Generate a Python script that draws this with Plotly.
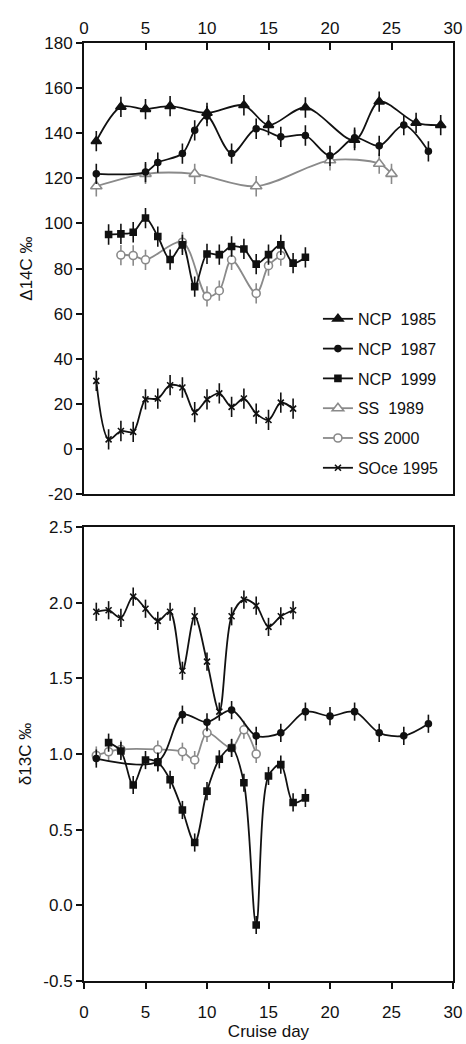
import plotly.graph_objects as go

# ---------------- Δ14C (top panel) ----------------
ncp1985_d14_day = [1, 3, 5, 7, 10, 13, 15, 18, 22, 24, 27, 29]
ncp1985_d14_val = [136.5, 151.7, 150.7, 152, 149, 152.4, 143.6, 151.4, 137, 154, 144.6, 143.6]

ncp1987_d14_day = [1, 5, 6, 8, 9, 10, 12, 14, 16, 18, 20, 22, 24, 26, 28]
ncp1987_d14_val = [122, 122.8, 127, 131, 141.3, 147.6, 131, 142, 138.4, 139, 130, 138, 134.4, 143.6, 132]

ncp1999_d14_day = [2, 3, 4, 5, 6, 7, 8, 9, 10, 11, 12, 13, 14, 15, 16, 17, 18]
ncp1999_d14_val = [95.1, 95.4, 96.1, 102.4, 94.2, 84, 90.5, 72, 86.5, 86.2, 89.8, 88.7, 82, 86.2, 90.5, 82.4, 85]

ss1989_d14_day = [1, 5, 9, 14, 20, 24, 25]
ss1989_d14_val = [116.5, 122, 122, 116.5, 128, 126.5, 122]

ss2000_d14_day = [3, 4, 5, 8, 10, 11, 12, 14, 15, 16]
ss2000_d14_val = [86, 85.8, 83.9, 91.7, 67.7, 70.2, 83.9, 69, 81.3, 85.8]

soce1995_d14_day = [1, 2, 3, 4, 5, 6, 7, 8, 9, 10, 11, 12, 13, 14, 15, 16, 17]
soce1995_d14_val = [30.2, 4.3, 8, 7.6, 22, 22.4, 28.3, 27.3, 16.4, 22, 24.7, 18.7, 22.4, 15.7, 12.9, 20.6, 17.9]

d14_err = 4.5

# ---------------- δ13C (bottom panel) ----------------
ncp1987_d13_day = [1, 6, 8, 10, 12, 14, 16, 18, 20, 22, 24, 26, 28]
ncp1987_d13_val = [0.97, 0.95, 1.26, 1.21, 1.29, 1.12, 1.14, 1.28, 1.25, 1.28, 1.14, 1.12, 1.20]

ncp1999_d13_day = [2, 3, 4, 5, 6, 7, 8, 9, 10, 11, 12, 13, 14, 15, 16, 17, 18]
ncp1999_d13_val = [1.075, 1.02, 0.795, 0.96, 0.945, 0.83, 0.63, 0.415, 0.755, 0.965, 1.04, 0.81, -0.13, 0.855, 0.93, 0.68, 0.71]

ss2000_d13_day = [1, 2, 3, 6, 8, 9, 10, 12, 13, 14]
ss2000_d13_val = [0.99, 1.015, 1.03, 1.03, 1.015, 0.96, 1.14, 1.04, 1.16, 1.0]

soce1995_d13_day = [1, 2, 3, 4, 5, 6, 7, 8, 9, 10, 11, 12, 13, 14, 15, 16, 17]
soce1995_d13_val = [1.94, 1.95, 1.90, 2.04, 1.96, 1.88, 1.94, 1.55, 1.91, 1.61, 1.28, 1.91, 2.02, 1.98, 1.84, 1.91, 1.95]

d13_err = 0.06

legend_order = ["NCP\u00a0 1985", "NCP\u00a0 1987", "NCP\u00a0 1999", "SS\u00a0 1989", "SS 2000", "SOce 1995"]

x_ticks = [0, 5, 10, 15, 20, 25, 30]
y1_ticks = [-20, 0, 20, 40, 60, 80, 100, 120, 140, 160, 180]
y1_labels = ["-20", "0", "20", "40", "60", "80", "100", "120", "140", "160", "180"]
y2_ticks = [-0.5, 0.0, 0.5, 1.0, 1.5, 2.0, 2.5]
y2_labels = ["-0.5", "0.0", "0.5", "1.0", "1.5", "2.0", "2.5"]

BLACK = "#111111"
GRAY = "#8a8a8a"
FONT = "Liberation Sans, Arial, sans-serif"

series_style = {
    "NCP\u00a0 1985": dict(symbol="triangle-up", size=9, color=BLACK, fill=BLACK),
    "NCP\u00a0 1987": dict(symbol="circle", size=6, color=BLACK, fill=BLACK),
    "NCP\u00a0 1999": dict(symbol="square", size=6, color=BLACK, fill=BLACK),
    "SS\u00a0 1989": dict(symbol="triangle-up", size=10, color=GRAY, fill="white"),
    "SS 2000": dict(symbol="circle", size=8, color=GRAY, fill="white"),
    "SOce 1995": dict(symbol="x-thin", size=6, color=BLACK, fill=BLACK),
}

fig = go.Figure()


def style_kwargs(name):
    st = series_style[name]
    return dict(
        line=dict(color=st["color"], width=1.8, shape="spline", smoothing=0.9),
        marker=dict(symbol=st["symbol"], size=st["size"], color=st["fill"],
                    line=dict(color=st["color"], width=1.6)),
    )


# legend entries (in legend order)
for name in legend_order:
    fig.add_trace(go.Scatter(x=[None], y=[None], name=name, mode="lines+markers",
                             xaxis="x", yaxis="y", legendgroup=name, showlegend=True,
                             **style_kwargs(name)))


def add(name, xs, ys, err, yaxis, xaxis):
    st = series_style[name]
    fig.add_trace(go.Scatter(
        x=xs, y=ys, name=name, mode="lines+markers",
        xaxis=xaxis, yaxis=yaxis,
        error_y=dict(type="constant", value=err, color=st["color"], thickness=1.6, width=0),
        showlegend=False, legendgroup=name, **style_kwargs(name),
    ))


# top panel: gray first so black sits on top
add("SS\u00a0 1989", ss1989_d14_day, ss1989_d14_val, d14_err, "y", "x")
add("SS 2000", ss2000_d14_day, ss2000_d14_val, d14_err, "y", "x")
add("NCP\u00a0 1985", ncp1985_d14_day, ncp1985_d14_val, d14_err, "y", "x")
add("NCP\u00a0 1987", ncp1987_d14_day, ncp1987_d14_val, d14_err, "y", "x")
add("NCP\u00a0 1999", ncp1999_d14_day, ncp1999_d14_val, d14_err, "y", "x")
add("SOce 1995", soce1995_d14_day, soce1995_d14_val, d14_err, "y", "x")

# bottom panel
add("SS 2000", ss2000_d13_day, ss2000_d13_val, d13_err, "y2", "x2")
add("NCP\u00a0 1987", ncp1987_d13_day, ncp1987_d13_val, d13_err, "y2", "x2")
add("NCP\u00a0 1999", ncp1999_d13_day, ncp1999_d13_val, d13_err, "y2", "x2")
add("SOce 1995", soce1995_d13_day, soce1995_d13_val, d13_err, "y2", "x2")

axis_common = dict(showgrid=False, zeroline=False, showline=True, linecolor=BLACK,
                   linewidth=2, mirror=True, tickcolor=BLACK, tickwidth=1.5,
                   automargin=False,
                   tickfont=dict(size=17, color=BLACK, family=FONT))

fig.update_layout(
    width=466, height=1044,
    margin=dict(l=84, r=13, t=43, b=63),
    paper_bgcolor="white", plot_bgcolor="white",
    font=dict(family=FONT, size=17, color=BLACK),
    xaxis=dict(domain=[0, 1], anchor="y", side="top", range=[0, 30],
               tickvals=x_ticks, ticks="inside", ticklen=7, **axis_common),
    yaxis=dict(domain=[0.519, 1], anchor="x", range=[-20, 180],
               tickvals=y1_ticks, ticktext=y1_labels,
               ticks="outside", ticklen=6,
               title=dict(text="\u039414C \u2030", font=dict(size=17), standoff=7),
               **axis_common),
    xaxis2=dict(domain=[0, 1], anchor="y2", range=[0, 30], tickvals=x_ticks,
                ticks="outside", ticklen=6, ticklabelstandoff=9,
                title=dict(text="Cruise day", font=dict(size=17), standoff=4),
                **axis_common),
    yaxis2=dict(domain=[0, 0.484], anchor="x2", range=[-0.5, 2.5],
                tickvals=y2_ticks, ticktext=y2_labels,
                ticks="outside", ticklen=6,
                title=dict(text="\u03b413C \u2030", font=dict(size=17), standoff=7),
                **axis_common),
    legend=dict(x=0.634, y=0.724, xanchor="left", yanchor="top",
                bgcolor="rgba(0,0,0,0)", font=dict(size=16, family=FONT, color=BLACK),
                traceorder="grouped", tracegroupgap=6, itemwidth=30),
)

fig.write_html("out.html")
